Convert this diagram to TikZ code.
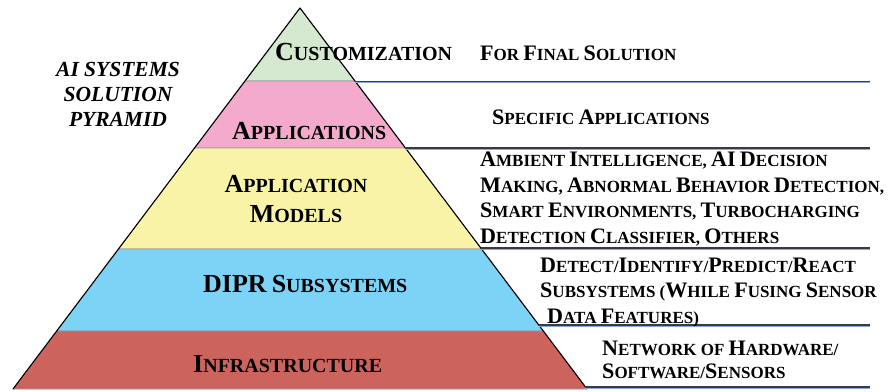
\documentclass[tikz,border=0pt]{standalone}
\usepackage{fontspec}
\setmainfont{Liberation Serif}
\usetikzlibrary{calc, positioning}
\newcommand\Bc[1]{\scalebox{1.3}{#1}}
\newcommand\pyrband[3]{\fill[fill=#3, draw=gray!80, line width=0.6pt] ($(apex)!{(#1-8)/381}!(bl)$) -- ($(apex)!{(#2-8)/381}!(bl)$) -- ($(apex)!{(#2-8)/381}!(br)$) -- ($(apex)!{(#1-8)/381}!(br)$) -- cycle;}
\definecolor{cgreen}{RGB}{213,232,208}
\definecolor{cpink}{RGB}{244,170,204}
\definecolor{cyellow}{RGB}{249,243,168}
\definecolor{cblue}{RGB}{125,211,245}
\definecolor{cred}{RGB}{205,99,93}
\definecolor{lineink}{RGB}{55,58,72}
\definecolor{lineblue}{RGB}{140,170,215}

\begin{document}
\begin{tikzpicture}[x=1pt, y=-1pt,
	plab/.style={font=\fontsize{20}{30}\selectfont\bfseries, inner sep=0pt},
	rtext/.style={font=\fontsize{17}{25.5}\selectfont\bfseries, align=left, inner sep=0pt, anchor=base west},
	ttl/.style={font=\fontsize{21.5}{25}\selectfont\bfseries\itshape, align=center, inner sep=0pt, anchor=base}]
	\useasboundingbox (0,0) rectangle (896,391);
	\coordinate (apex) at (300,8);
	\coordinate (bl) at (13,389);
	\coordinate (br) at (587,389);
	\coordinate (rend) at (870,0);
	% layers
	\pyrband{8}{81}{cgreen}
	\pyrband{81}{148}{cpink}
	\pyrband{148}{249}{cyellow}
	\pyrband{249}{331}{cblue}
	\pyrband{331}{389}{cred}
	\draw[line width=1.1pt, line join=round] (bl) -- (apex) -- (br);
	% leader lines
	\foreach \name/\yy in {l1/81.5, l2/148, l3/248, l4/325, l5/387}{
		\coordinate (\name) at ($(apex)!{(\yy-8)/381}!(br)$);
		\draw[lineblue, line width=1.2pt] ([yshift=-1.1pt]\name) -- ([yshift=-1.1pt]\name -| rend);
		\draw[lineink, line width=1.1pt] (\name) -- (\name -| rend);
	}
	% pyramid labels
	\node[plab, anchor=base west] (custom) at (275,60) {\Bc{C}USTOMIZATION};
	\node[plab, anchor=base west] (apps) at (232,139) {\Bc{A}PPLICATIONS};
	\node[plab, anchor=base] (models1) at (296,192) {\Bc{A}PPLICATION};
	\node[plab, anchor=base] (models2) at (296,222) {\Bc{M}ODELS};
	\node[plab, anchor=base west] (dipr) at (203,292) {\Bc{DIPR} \Bc{S}UBSYSTEMS};
	\node[plab, anchor=base west] (infra) at (193,372) {\Bc{I}NFRASTRUCTURE};
	% descriptions (anchored on the last line)
	\node[rtext] (final) at (480,60) {\Bc{F}OR \Bc{F}INAL \Bc{S}OLUTION};
	\node[rtext] (specific) at (492,124) {\Bc{S}PECIFIC \Bc{A}PPLICATIONS};
	\node[rtext] (ambient) at (480,243) {\Bc{A}MBIENT \Bc{I}NTELLIGENCE, \Bc{AI} \Bc{D}ECISION\\\Bc{M}AKING, \Bc{A}BNORMAL \Bc{B}EHAVIOR \Bc{D}ETECTION,\\\Bc{S}MART \Bc{E}NVIRONMENTS, \Bc{T}URBOCHARGING\\\Bc{D}ETECTION \Bc{C}LASSIFIER, \Bc{O}THERS};
	\node[rtext] (detect) at (540,323) {\Bc{D}ETECT/\Bc{I}DENTIFY/\Bc{P}REDICT/\Bc{R}EACT\\\Bc{S}UBSYSTEMS (\Bc{W}HILE \Bc{F}USING \Bc{S}ENSOR\\\hspace{7pt}\Bc{D}ATA \Bc{F}EATURES)};
	\node[rtext, font=\fontsize{17}{23}\selectfont\bfseries] (network) at (602,378) {\Bc{N}ETWORK OF \Bc{H}ARDWARE/\\\Bc{S}OFTWARE/\Bc{S}ENSORS};
	% title
	\node[ttl] (title) at (118,126) {AI SYSTEMS\\SOLUTION\\PYRAMID};
\end{tikzpicture}
\end{document}
